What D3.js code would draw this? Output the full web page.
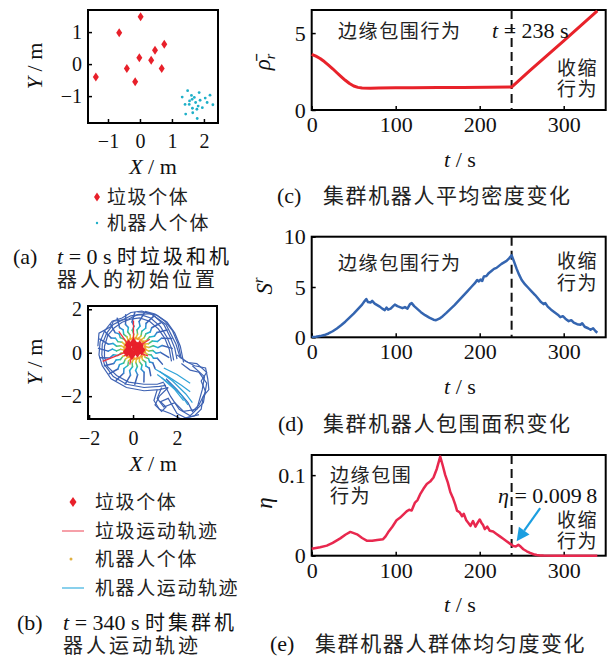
<!DOCTYPE html>
<html>
<head>
<meta charset="utf-8">
<script src="https://cdn.jsdelivr.net/npm/d3@7"></script>
<style>
  body { margin: 0; background: #fff; }
</style>
</head>
<body>
<svg id="fig" width="614" height="660"></svg>
<script>
// ================================
// Data
// ================================

// (a) initial positions
const garbageStart = [[0.02, 1.48], [-0.65, 0.98], [0.76, 0.62], [0.47, 0.43], [-0.02, 0.2],
  [0.35, 0.12], [-0.41, -0.14], [0.68, -0.14], [-0.15, -0.55], [-1.38, -0.4]];
const robotStart = [[1.49, -0.83], [1.85, -0.89], [1.32, -1.03], [1.61, -0.98], [2.19, -0.97],
  [1.63, -1.1], [1.88, -1.13], [2.04, -1.06], [1.74, -1.2], [1.41, -1.26], [1.54, -1.26],
  [1.82, -1.31], [2.1, -1.2], [2.28, -1.27], [1.64, -1.38], [1.78, -1.41], [1.43, -1.56],
  [1.65, -1.52], [1.79, -1.7], [1.55, -1.15], [1.95, -1.36], [1.7, -1.04]];

// (b) trajectories at t = 340 s
const garbageEnd = [[0.02, 0.45], [-0.2, 0.35], [0.3, 0.32], [0.2, 0.25], [0.1, 0.22],
  [0.38, 0.12], [-0.12, 0.05], [0.2, 0.02], [-0.05, -0.08], [-0.28, 0.05]];
const outerLoops = [
  [[2.0, -0.3], [1.9, 0.2], [1.7, 0.7], [1.4, 1.3], [0.9, 1.75], [0.4, 1.92], [-0.1, 1.85], [-0.5, 1.6], [-0.95, 1.45], [-1.3, 1.0], [-1.5, 0.5], [-1.55, -0.1], [-1.4, -0.6], [-1.0, -1.2], [-0.3, -1.6], [0.5, -1.75], [1.2, -1.7], [1.6, -1.6]],
  [[1.85, -0.35], [1.75, 0.2], [1.55, 0.7], [1.25, 1.2], [0.8, 1.6], [0.35, 1.75], [-0.1, 1.7], [-0.5, 1.5], [-0.9, 1.3], [-1.2, 0.9], [-1.4, 0.4], [-1.42, -0.1], [-1.3, -0.55], [-0.9, -1.1], [-0.3, -1.45], [0.5, -1.6], [1.2, -1.55], [1.5, -1.5]],
  [[1.75, -0.4], [1.65, 0.15], [1.45, 0.65], [1.15, 1.1], [0.75, 1.45], [0.3, 1.6], [-0.1, 1.55], [-0.5, 1.4], [-0.85, 1.15], [-1.15, 0.8], [-1.3, 0.3], [-1.3, -0.2], [-1.15, -0.65], [-0.75, -1.05], [-0.2, -1.35], [0.5, -1.45], [1.1, -1.45], [1.4, -1.35]],
  [[-1.6, 0.3], [-1.55, 0.9], [-1.0, 1.2], [-0.9, 1.45], [-0.2, 1.55], [0.2, 1.75], [0.8, 1.8], [1.5, 1.3], [1.95, 0.4], [2.15, -0.25]],
  [[2.2, -0.3], [2.05, 0.4], [1.8, 1.0], [1.45, 1.45], [1.0, 1.78], [0.55, 1.9]],
  [[2.3, -0.45], [2.15, 0.3], [1.9, 0.9], [1.55, 1.4], [1.1, 1.72], [0.6, 1.85], [0.2, 1.88]]
];
const lobePaths = [
  [[1.6, -1.6], [1.2, -2.0], [1.0, -2.4], [1.3, -2.7], [1.5, -2.5], [1.25, -2.25], [1.6, -2.1], [2.0, -2.8], [2.4, -3.0], [2.8, -2.9], [3.1, -2.6], [3.2, -2.0], [3.45, -1.7], [3.4, -1.2], [3.3, -0.7], [2.8, -0.6], [2.3, -0.35]],
  [[1.5, -1.2], [2.0, -1.7], [2.5, -2.3], [2.7, -2.7], [3.0, -2.4], [3.3, -1.8], [3.1, -1.3], [3.35, -0.9], [2.9, -0.5], [2.5, -0.45], [2.0, -0.1]],
  [[1.4, -1.4], [1.7, -2.0], [2.1, -2.6], [2.6, -2.9], [3.2, -2.3], [3.35, -1.4], [3.0, -0.9], [2.6, -0.8], [2.2, -0.5]],
  [[1.3, -1.6], [1.1, -2.1], [1.4, -2.5], [1.9, -2.3], [2.3, -2.7], [2.9, -2.6], [3.15, -1.7], [3.25, -1.1], [2.7, -0.6]],
  [[1.1, -1.7], [0.95, -2.2], [1.2, -2.6], [1.7, -2.8], [2.2, -3.05], [3.0, -2.85]]
];
const streaks = [
  [[1.0, -0.75], [1.6, -1.1], [2.2, -1.5], [2.6, -1.8]],
  [[1.2, -0.85], [1.8, -1.3], [2.4, -1.9], [2.7, -2.3]],
  [[1.1, -1.0], [1.7, -1.45], [2.2, -1.95], [2.5, -2.4]],
  [[1.4, -0.7], [2.0, -1.0], [2.6, -1.4]],
  [[1.3, -1.15], [1.9, -1.7], [2.3, -2.2]]
];
// spokes in polar form [angle deg, radius] around the garbage pile
const spokeCenter = [0.08, 0.2];
const spokes = [
  [[0, 1.7], [6, 1.25], [2, 1.05], [8, 0.85], [4, 0.65], [10, 0.47]],
  [[15, 1.75], [21, 1.3], [17, 1.08], [23, 0.86], [19, 0.66], [25, 0.47]],
  [[30, 1.7], [36, 1.25], [32, 1.05], [38, 0.85], [34, 0.65], [40, 0.47]],
  [[45, 1.65], [51, 1.22], [47, 1.03], [53, 0.84], [49, 0.65], [55, 0.47]],
  [[60, 1.7], [66, 1.26], [62, 1.05], [68, 0.85], [64, 0.65], [70, 0.47]],
  [[75, 1.7], [81, 1.25], [77, 1.05], [83, 0.85], [79, 0.66], [85, 0.47]],
  [[90, 1.65], [96, 1.22], [92, 1.02], [98, 0.84], [94, 0.65], [100, 0.47]],
  [[105, 1.6], [111, 1.18], [107, 1.0], [113, 0.83], [109, 0.64], [115, 0.47]],
  [[120, 1.6], [126, 1.18], [122, 1.0], [128, 0.82], [124, 0.64], [130, 0.47]],
  [[135, 1.55], [141, 1.15], [137, 0.98], [143, 0.82], [139, 0.64], [145, 0.47]],
  [[150, 1.6], [156, 1.18], [152, 1.0], [158, 0.83], [154, 0.65], [160, 0.47]],
  [[165, 1.65], [171, 1.22], [167, 1.02], [173, 0.84], [169, 0.65], [175, 0.47]],
  [[180, 1.65], [186, 1.22], [182, 1.02], [188, 0.84], [184, 0.65], [190, 0.47]],
  [[195, 1.65], [201, 1.22], [197, 1.02], [203, 0.84], [199, 0.65], [205, 0.47]],
  [[210, 1.6], [216, 1.18], [212, 1.0], [218, 0.83], [214, 0.65], [220, 0.47]],
  [[225, 1.65], [231, 1.22], [227, 1.02], [233, 0.84], [229, 0.65], [235, 0.47]],
  [[240, 1.7], [246, 1.25], [242, 1.05], [248, 0.85], [244, 0.65], [250, 0.47]],
  [[255, 1.7], [261, 1.25], [257, 1.05], [263, 0.85], [259, 0.65], [265, 0.47]],
  [[270, 1.65], [276, 1.22], [272, 1.02], [278, 0.84], [274, 0.65], [280, 0.47]],
  [[285, 1.6], [291, 1.18], [287, 1.0], [293, 0.83], [289, 0.65], [295, 0.47]],
  [[300, 1.45], [306, 1.12], [302, 0.96], [308, 0.8], [304, 0.63], [310, 0.47]],
  [[315, 1.3], [321, 1.05], [317, 0.92], [323, 0.78], [319, 0.62], [325, 0.47]],
  [[330, 1.45], [336, 1.12], [332, 0.96], [338, 0.8], [334, 0.63], [340, 0.47]],
  [[345, 1.6], [351, 1.18], [347, 1.0], [353, 0.83], [349, 0.65], [355, 0.47]]
];
const trackColors = ['#3d63b6', '#3388d0', '#1fb3d0', '#4fc07a', '#e0c030'];

// (c) average density
const densityT = [0, 5, 10, 15, 20, 25, 30, 35, 40, 45, 50, 55, 60, 70, 80, 100, 120, 150, 180, 210, 238, 260, 280, 300, 320, 340];
const densityV = [3.62, 3.5, 3.35, 3.15, 2.92, 2.68, 2.42, 2.17, 1.93, 1.72, 1.56, 1.47, 1.43, 1.42, 1.43, 1.44, 1.45, 1.46, 1.47, 1.48, 1.49, 2.57, 3.54, 4.5, 5.47, 6.45];

// (d) enclosed area
const areaT = [0, 5, 10, 15, 20, 25, 30, 35, 40, 45, 50, 55, 60, 63, 65, 67, 70, 72, 75, 78, 81, 84, 87, 89, 91, 94, 97, 99, 102, 105, 108, 111, 114, 117, 119, 122, 126, 130, 135, 140, 145, 148, 152, 156, 160, 165, 170, 175, 180, 185, 190, 194, 197, 199, 201, 203, 205, 208, 211, 214, 217, 220, 223, 226, 229, 232, 235, 238, 241, 244, 247, 250, 254, 258, 262, 266, 270, 273, 276, 278, 281, 285, 289, 293, 296, 299, 302, 306, 309, 312, 316, 320, 322, 325, 329, 332, 335, 338, 340];
const areaV = [0.02, 0.05, 0.12, 0.22, 0.38, 0.6, 0.88, 1.2, 1.55, 1.95, 2.35, 2.8, 3.25, 3.6, 3.8, 3.5, 3.45, 3.62, 3.35, 3.2, 3.05, 2.85, 2.7, 2.95, 2.75, 2.85, 3.1, 3.25, 3.1, 3.0, 2.9, 3.0, 2.85, 3.3, 3.4, 3.1, 2.8, 2.5, 2.2, 1.95, 1.75, 1.7, 1.85, 2.1, 2.4, 2.8, 3.2, 3.65, 4.1, 4.55, 5.0, 5.35, 5.7, 5.55, 5.75, 5.6, 6.05, 6.1, 6.4, 6.6, 6.8, 6.9, 7.1, 7.3, 7.45, 7.6, 7.85, 8.15, 7.5, 6.8, 6.2, 5.7, 5.25, 4.9, 4.55, 4.2, 3.8, 3.5, 3.3, 3.4, 3.05, 2.75, 2.5, 2.25, 2.0, 2.1, 1.85, 1.6, 1.7, 1.45, 1.3, 1.25, 1.4, 1.05, 0.9, 0.75, 0.9, 0.6, 0.45];

// (e) uniformity
const uniT = [0, 10, 18, 25, 34, 40, 46, 50, 54, 60, 66, 72, 78, 85, 88, 91, 96, 101, 105, 109, 113, 116, 119, 121, 123, 126, 129, 133, 137, 141, 145, 149, 153, 156, 159, 162, 165, 168, 171, 173, 176, 179, 181, 184, 187, 189, 192, 195, 197, 200, 202, 204, 206, 209, 212, 216, 220, 224, 228, 232, 236, 240, 243, 246, 249, 252, 256, 260, 264, 268, 272, 276, 290, 310, 340];
const uniV = [0.0085, 0.0105, 0.0125, 0.016, 0.0215, 0.026, 0.0295, 0.028, 0.0265, 0.022, 0.0185, 0.0185, 0.0195, 0.0205, 0.024, 0.029, 0.036, 0.044, 0.047, 0.051, 0.055, 0.057, 0.056, 0.061, 0.066, 0.069, 0.076, 0.083, 0.089, 0.092, 0.097, 0.108, 0.123, 0.112, 0.1, 0.091, 0.079, 0.072, 0.063, 0.056, 0.054, 0.049, 0.052, 0.044, 0.04, 0.037, 0.043, 0.036, 0.04, 0.045, 0.041, 0.038, 0.033, 0.036, 0.031, 0.03, 0.027, 0.024, 0.021, 0.018, 0.015, 0.012, 0.0115, 0.0135, 0.011, 0.008, 0.0055, 0.0035, 0.0018, 0.0008, 0.0003, 0.0001, 0, 0, 0];

const switchT = 238;
const arrowFrom = [272, 0.059];
const arrowTo = [244, 0.018];

// ================================
// Helpers
// ================================
const SERIF = '"Liberation Serif", "Times New Roman", serif';
const CJK = '"Noto Sans CJK SC", "Noto Sans CJK JP", sans-serif';
const fmt = d3.format('~g');
const svg = d3.select('#fig');

function drawAxes(x, y, xt, yt, opt) {
  const [x0, x1] = x.range();
  const [y0, y1] = y.range();
  const g = svg.append('g');

  const style = a => {
    a.select('.domain').remove();
    a.selectAll('line').attr('stroke', '#000').attr('stroke-width', 1.5);
    a.selectAll('text').attr('fill', '#111')
      .style('font-family', SERIF).style('font-size', opt.fs + 'px');
  };

  g.append('g')
    .attr('transform', `translate(0,${y0})`)
    .call(d3.axisBottom(x).tickValues(xt).tickSize(-4).tickPadding(opt.padX).tickFormat(fmt))
    .call(style);

  g.append('g')
    .attr('transform', `translate(${x0},0)`)
    .call(d3.axisLeft(y).tickValues(yt).tickSize(-4).tickPadding(opt.padY).tickFormat(fmt))
    .call(style);

  g.append('rect')
    .attr('x', x0).attr('y', y1)
    .attr('width', x1 - x0).attr('height', y0 - y1)
    .attr('fill', 'none').attr('stroke', '#000').attr('stroke-width', 2);
}

function cnText(x, y, str, size, anchor) {
  return svg.append('text')
    .attr('x', x).attr('y', y)
    .style('font-family', CJK).style('font-size', (size || 19) + 'px')
    .attr('letter-spacing', 1.6)
    .attr('text-anchor', anchor || 'start')
    .attr('fill', '#222')
    .text(str);
}

function serifText(x, y, size) {
  return svg.append('text').attr('x', x).attr('y', y)
    .style('font-family', SERIF).style('font-size', (size || 22) + 'px').attr('fill', '#111');
}

// "X / m" style label
function unitLabel(x, y, sym, unit, rotate) {
  const t = serifText(0, 0, 22).attr('text-anchor', 'middle');
  if (rotate) t.attr('transform', `translate(${x},${y}) rotate(-90)`);
  else t.attr('x', x).attr('y', y);
  t.append('tspan').attr('font-style', 'italic').text(sym);
  t.append('tspan').text(' / ' + unit);
}

function diamond(cx, cy, hw, hh) {
  return `M${cx},${cy - hh}L${cx + hw},${cy}L${cx},${cy + hh}L${cx - hw},${cy}Z`;
}

const RED = '#e8202a';

// ================================
// (a) initial positions
// ================================
const xa = d3.scaleLinear([-1.625, 2.44], [88, 218]);
const ya = d3.scaleLinear([-1.84, 1.69], [123, 10]);
drawAxes(xa, ya, [-1, 0, 1, 2], [-1, 0, 1], { fs: 20, padX: 11, padY: 6 });

svg.append('g').selectAll('path').data(garbageStart).join('path')
  .attr('d', d => diamond(xa(d[0]), ya(d[1]), 3, 4.5))
  .attr('fill', RED);
svg.append('g').selectAll('circle').data(robotStart).join('circle')
  .attr('cx', d => xa(d[0])).attr('cy', d => ya(d[1])).attr('r', 1.4)
  .attr('fill', '#1fb0c8');

unitLabel(42, 66, 'Y', 'm', true);
unitLabel(153, 174, 'X', 'm');

svg.append('path').attr('d', diamond(97, 197, 3, 4.5)).attr('fill', RED);
cnText(107, 204, '垃圾个体');
svg.append('circle').attr('cx', 97).attr('cy', 223).attr('r', 1.2).attr('fill', '#1fb0c8');
cnText(107, 230, '机器人个体');

serifText(13, 264).text('(a)');
{
  const t = serifText(57, 264);
  t.append('tspan').attr('font-style', 'italic').text('t');
  t.append('tspan').text(' = 0 s ');
  t.append('tspan').style('font-family', CJK).style('font-size', '20px').attr('letter-spacing', 3).text('时垃圾和机');
}
cnText(57, 287, '器人的初始位置', 20).attr('letter-spacing', 3);

// ================================
// (b) trajectories at t = 340 s
// ================================
const xb = d3.scaleLinear([-2.05, 3.82], [88, 217]);
const yb = d3.scaleLinear([-3.05, 2.15], [419, 306]);
const lineB = d3.line().x(d => xb(d[0])).y(d => yb(d[1]));
const gb = svg.append('g');

gb.selectAll('path.loop').data(outerLoops.concat(lobePaths)).join('path')
  .attr('class', 'loop')
  .attr('d', lineB)
  .attr('fill', 'none').attr('stroke', '#3f63b3').attr('stroke-width', 1.2);

gb.selectAll('path.streak').data(streaks).join('path')
  .attr('class', 'streak')
  .attr('d', lineB)
  .attr('fill', 'none').attr('stroke', '#2fa3d8').attr('stroke-width', 1.2);

const trackColor = d3.scaleLinear().domain(trackColors.map((c, i) => i)).range(trackColors);
const polar = p => [spokeCenter[0] + p[1] * Math.cos(p[0] * Math.PI / 180),
                    spokeCenter[1] + p[1] * Math.sin(p[0] * Math.PI / 180)];
spokes.forEach(sp => {
  const pts = sp.map(polar);
  d3.pairs(pts).forEach(([a, b], i) => {
    gb.append('line')
      .attr('x1', xb(a[0])).attr('y1', yb(a[1]))
      .attr('x2', xb(b[0])).attr('y2', yb(b[1]))
      .attr('stroke', trackColor(i)).attr('stroke-width', 1.5)
      .attr('stroke-linecap', 'round');
  });
  const e = pts[pts.length - 1];
  gb.append('circle').attr('cx', xb(e[0])).attr('cy', yb(e[1])).attr('r', 1.5).attr('fill', '#f0a030');
});

garbageStart.forEach((s, i) => {
  const e = garbageEnd[i];
  gb.append('line')
    .attr('x1', xb(s[0])).attr('y1', yb(s[1]))
    .attr('x2', xb(e[0])).attr('y2', yb(e[1]))
    .attr('stroke', '#f03040').attr('stroke-width', 1.3);
});
gb.selectAll('path.gend').data(garbageEnd).join('path')
  .attr('class', 'gend')
  .attr('d', d => diamond(xb(d[0]), yb(d[1]), 4, 5.5))
  .attr('fill', RED);

drawAxes(xb, yb, [-2, 0, 2], [-2, 0, 2], { fs: 20, padX: 12, padY: 6 });
unitLabel(42, 362, 'Y', 'm', true);
unitLabel(153, 471, 'X', 'm');

svg.append('path').attr('d', diamond(73, 502, 3.5, 5)).attr('fill', RED);
cnText(95, 509, '垃圾个体');
svg.append('line').attr('x1', 62).attr('x2', 84).attr('y1', 531).attr('y2', 531)
  .attr('stroke', '#f06070').attr('stroke-width', 1.2);
cnText(95, 538, '垃圾运动轨迹');
svg.append('circle').attr('cx', 71).attr('cy', 559).attr('r', 1.5).attr('fill', '#e0b040');
cnText(95, 566, '机器人个体');
svg.append('line').attr('x1', 62).attr('x2', 84).attr('y1', 588).attr('y2', 588)
  .attr('stroke', '#3ab0e0').attr('stroke-width', 1.2);
cnText(95, 595, '机器人运动轨迹');

serifText(17, 630).text('(b)');
{
  const t = serifText(63, 630);
  t.append('tspan').attr('font-style', 'italic').text('t');
  t.append('tspan').text(' = 340 s ');
  t.append('tspan').style('font-family', CJK).style('font-size', '20px').attr('letter-spacing', 3).text('时集群机');
}
cnText(63, 653, '器人运动轨迹', 20).attr('letter-spacing', 3);

// ================================
// (c)(d)(e) time series
// ================================
const xt = d3.scaleLinear([0, 350], [311.7, 605.7]);

function seriesChart(top, bottom, yMax, yTicks, T, V, color, width) {
  const y = d3.scaleLinear([0, yMax], [bottom, top]);
  drawAxes(xt, y, [0, 100, 200, 300], yTicks, { fs: 22, padX: 6.5, padY: 6 });
  svg.append('line')
    .attr('x1', xt(switchT)).attr('x2', xt(switchT))
    .attr('y1', top).attr('y2', bottom)
    .attr('stroke', '#111').attr('stroke-width', 2).attr('stroke-dasharray', '9,5');
  svg.append('path')
    .datum(T.map((t, i) => [t, V[i]]))
    .attr('d', d3.line().x(d => xt(d[0])).y(d => y(d[1])))
    .attr('fill', 'none').attr('stroke', color).attr('stroke-width', width)
    .attr('stroke-linejoin', 'round');
  return y;
}

function rotLabel(x, y) {
  return serifText(0, 0, 23)
    .attr('transform', `translate(${x},${y}) rotate(-90)`)
    .attr('text-anchor', 'middle')
    .attr('font-style', 'italic');
}

// (c)
seriesChart(10, 110, 6.5, [0, 5], densityT, densityV, '#e8222a', 3);
{
  const t = rotLabel(270, 62);
  t.append('tspan').text('ρ\u0304');
  t.append('tspan').style('font-size', '14px').attr('dy', 5).text('r');
}
cnText(338, 38, '边缘包围行为');
{
  const t = serifText(492, 38);
  t.append('tspan').attr('font-style', 'italic').text('t');
  t.append('tspan').text(' = 238 s');
}
cnText(557, 75, '收缩');
cnText(557, 96, '行为');
unitLabel(460, 167, 't', 's');
serifText(277, 203).text('(c)');
cnText(323, 203, '集群机器人平均密度变化', 21);

// (d)
seriesChart(236.7, 337.3, 10, [0, 5, 10], areaT, areaV, '#3465b0', 2.5);
{
  const t = rotLabel(272, 286);
  t.append('tspan').text('S');
  t.append('tspan').style('font-size', '14px').attr('dy', -9).text('r');
}
cnText(338, 270, '边缘包围行为');
cnText(557, 268, '收缩');
cnText(557, 290, '行为');
unitLabel(460, 394, 't', 's');
serifText(278, 431).text('(d)');
cnText(323, 431, '集群机器人包围面积变化', 21);

// (e)
const ye = seriesChart(455, 555.7, 0.125, [0, 0.1], uniT, uniV, '#e8284e', 2.5);
rotLabel(272, 503).text('η');
cnText(330, 482, '边缘包围');
cnText(330, 503, '行为');
{
  const t = serifText(498, 503);
  t.append('tspan').attr('font-style', 'italic').text('η');
  t.append('tspan').text(' = 0.009\u20098');
}
cnText(557, 527, '收缩');
cnText(557, 548, '行为');
{
  const x1 = xt(arrowFrom[0]), y1 = ye(arrowFrom[1]);
  const x2 = xt(arrowTo[0]), y2 = ye(arrowTo[1]);
  const ang = Math.atan2(y2 - y1, x2 - x1);
  const hl = 13, hw = 6.5;
  const bx = x2 - hl * Math.cos(ang), by = y2 - hl * Math.sin(ang);
  svg.append('line').attr('x1', x1).attr('y1', y1).attr('x2', bx).attr('y2', by)
    .attr('stroke', '#1b9ee0').attr('stroke-width', 2.2);
  svg.append('path')
    .attr('d', `M${x2},${y2}L${bx - hw * Math.sin(ang)},${by + hw * Math.cos(ang)}L${bx + hw * Math.sin(ang)},${by - hw * Math.cos(ang)}Z`)
    .attr('fill', '#1b9ee0');
}
unitLabel(460, 612, 't', 's');
serifText(270, 651).text('(e)');
cnText(315, 651, '集群机器人群体均匀度变化', 21);
</script>
</body>
</html>
